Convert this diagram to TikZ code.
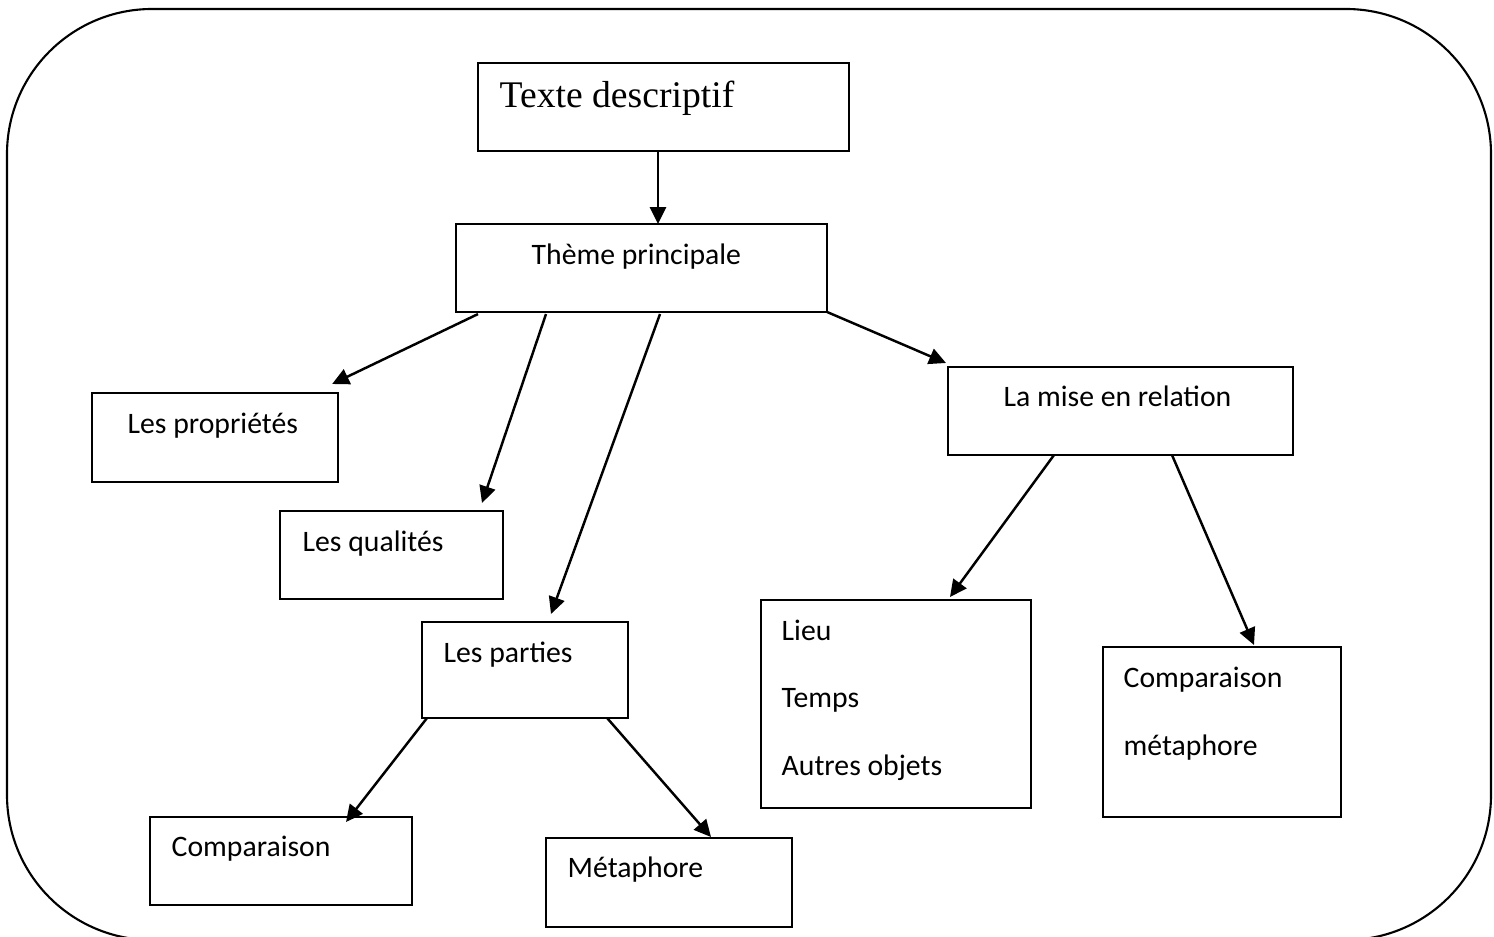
\documentclass[tikz,border=0pt]{standalone}
\usepackage{fontspec}
\setmainfont{Carlito}
\newfontfamily\timesfont{Liberation Serif}
\usetikzlibrary{arrows.meta,calc}
\begin{document}
\begin{tikzpicture}[x=0.01cm,y=-0.01cm,
  boxstyle/.style={draw,line width=0.65pt,rectangle,anchor=north west,inner sep=0pt,outer sep=0pt},
  lbl/.style={anchor=base west,inner sep=0pt,font=\fontsize{8.45}{10}\selectfont},
  conn/.style={line width=0.7pt,-{Triangle[length=4.8pt,width=4.6pt]}}]
\useasboundingbox (0,0) rectangle (1494,937);
% outer frame
\draw[line width=0.6pt,rounded corners=1.45cm] (7,9) rectangle (1491,940);
% boxes
\node[boxstyle,minimum width=3.71cm,minimum height=0.88cm] (td) at (478,63) {};
\node[boxstyle,minimum width=3.71cm,minimum height=0.88cm] (tp) at (456,224) {};
\node[boxstyle,minimum width=2.46cm,minimum height=0.89cm] (lp) at (92,393) {};
\node[boxstyle,minimum width=2.23cm,minimum height=0.88cm] (lq) at (280,511) {};
\node[boxstyle,minimum width=2.06cm,minimum height=0.96cm] (pa) at (422,622) {};
\node[boxstyle,minimum width=2.62cm,minimum height=0.88cm] (co) at (150,817) {};
\node[boxstyle,minimum width=2.46cm,minimum height=0.89cm] (me) at (546,838) {};
\node[boxstyle,minimum width=3.45cm,minimum height=0.88cm] (mr) at (948,367) {};
\node[boxstyle,minimum width=2.70cm,minimum height=2.08cm] (li) at (761,600) {};
\node[boxstyle,minimum width=2.38cm,minimum height=1.70cm] (cm) at (1103,647) {};
% labels
\node[anchor=base west,inner sep=0pt,font=\timesfont\fontsize{10.7}{12}\selectfont] (tdt) at (499,108) {Texte descriptif};
\node[lbl] (tpt) at (531,265) {Thème principale};
\node[lbl] (lpt) at (127,433) {Les propriétés};
\node[lbl] (lqt) at (302,551) {Les qualités};
\node[lbl] (pat) at (443,662) {Les parties};
\node[lbl] (cot) at (171,856) {Comparaison};
\node[lbl] (met) at (567,877) {Métaphore};
\node[lbl] (mrt) at (1003,407) {La mise en relation};
\node[lbl] (lit1) at (781,640) {Lieu};
\node[lbl] (lit2) at (781,707) {Temps};
\node[lbl] (lit3) at (781,775) {Autres objets};
\node[lbl] (cmt1) at (1123,687) {Comparaison};
\node[lbl] (cmt2) at (1123,755) {métaphore};
% connectors
\draw[conn] ($(td.south west)+(180,0)$) -- ($(tp.north west)+(202,0)$);
\draw[conn] ($(tp.south west)+(22,2)$) -- ($(lp.north east)+(-6,-9)$);
\draw[conn] ($(tp.south west)+(90,2)$) -- ($(lq.north west)+(202,-8)$);
\draw[conn] ($(tp.south west)+(204,2)$) -- ($(pa.north west)+(129,-8)$);
\draw[conn] (tp.south east) -- ($(mr.north west)+(-2,-4)$);
\draw[conn] ($(mr.south west)+(106,0)$) -- ($(li.north west)+(189,-3)$);
\draw[conn] ($(mr.south west)+(224,0)$) -- ($(cm.north west)+(151,-2)$);
\draw[conn] ($(pa.south west)+(5,0)$) -- ($(co.north west)+(196,5)$);
\draw[conn] ($(pa.south east)+(-21,0)$) -- ($(me.north west)+(165,-1)$);
\end{tikzpicture}
\end{document}
